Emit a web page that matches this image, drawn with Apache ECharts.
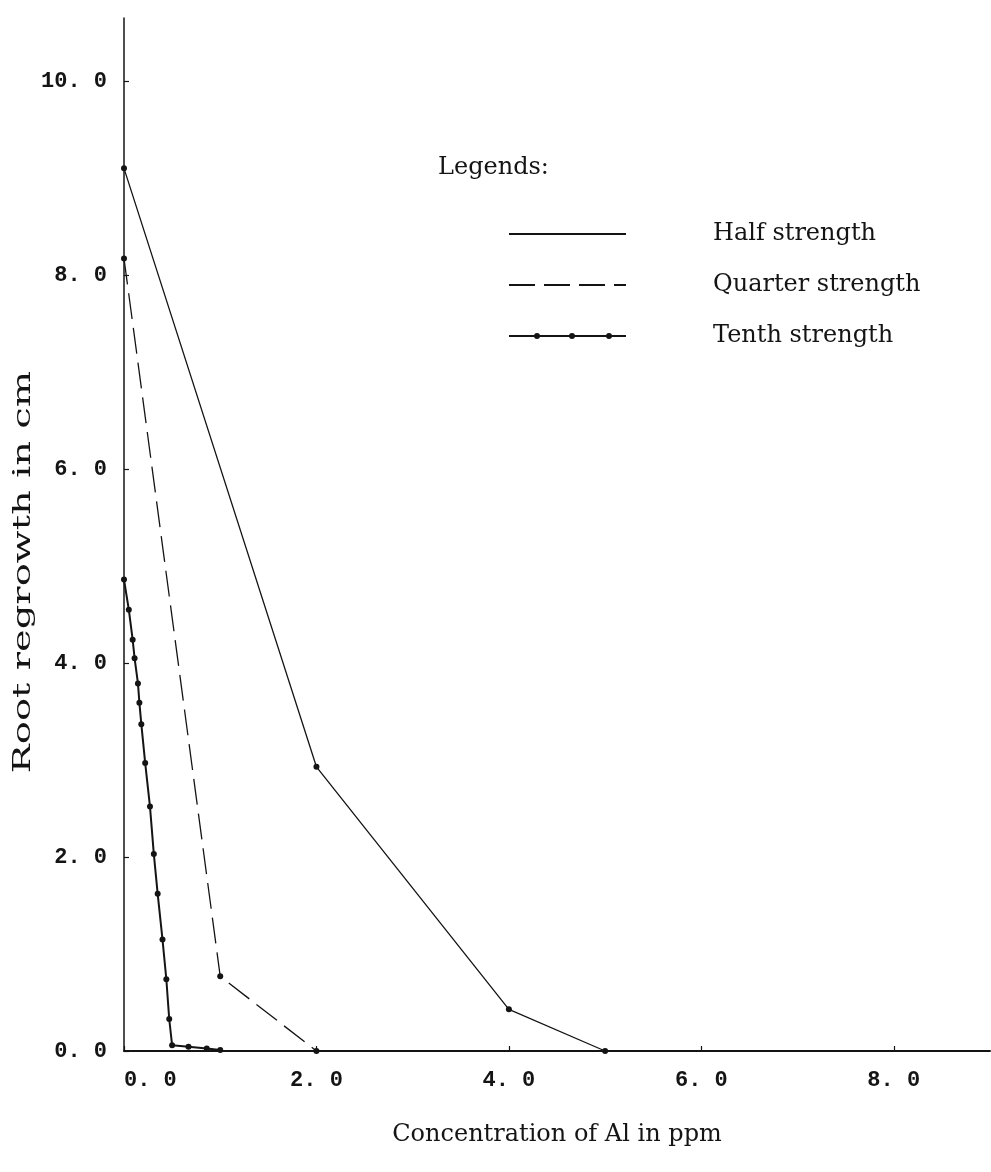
<!DOCTYPE html>
<html>
<head>
<meta charset="utf-8">
<script src="https://cdn.jsdelivr.net/npm/echarts@6/dist/echarts.min.js"></script>
<style>
  html, body { margin: 0; padding: 0; background: #fff; }
  #chart { width: 991px; height: 1172px; }
</style>
</head>
<body>
<div id="chart"></div>
<script>
// Tick positions for both axes
const xTicks = [0, 2, 4, 6, 8];
const yTicks = [0, 2, 4, 6, 8, 10];

// Root regrowth (cm) against Al concentration (ppm) for three nutrient strengths
const halfX = [0, 2.0, 4.0, 5.0];
const halfY = [9.10, 2.93, 0.43, 0];

const quarterX = [0, 1.0, 2.0];
const quarterY = [8.17, 0.77, 0];

const tenthX = [0, 0.05, 0.09, 0.11, 0.145, 0.16, 0.18, 0.22, 0.27, 0.31, 0.35, 0.40, 0.44, 0.47, 0.50, 0.67, 0.86, 1.0];
const tenthY = [4.86, 4.55, 4.24, 4.05, 3.79, 3.59, 3.37, 2.97, 2.52, 2.03, 1.62, 1.15, 0.74, 0.33, 0.06, 0.045, 0.025, 0.01];

const seriesNames = ['Half strength', 'Quarter strength', 'Tenth strength'];
const xTitle = 'Concentration of Al in ppm';
const yTitle = 'Root regrowth in cm';

const zip = (xs, ys) => xs.map((x, i) => [x, ys[i]]);
const ink = '#141414';
const tickFmt = v => v.toFixed(1).replace('.', '. ');

// Legend sample for the dotted series: a bar with three dots
const dottedIcon = 'path://M0,3L117,3L117,5L0,5Z' +
  'M25,4A3,3 0 1 1 31,4A3,3 0 1 1 25,4Z' +
  'M60,4A3,3 0 1 1 66,4A3,3 0 1 1 60,4Z' +
  'M97,4A3,3 0 1 1 103,4A3,3 0 1 1 97,4Z';

const chart = echarts.init(document.getElementById('chart'), null, { renderer: 'canvas' });

chart.setOption({
  backgroundColor: '#fff',
  animation: false,
  title: {
    text: 'Legends:',
    left: 438,
    top: 156,
    padding: 0,
    textStyle: { fontFamily: 'DejaVu Serif', fontWeight: 'normal', fontSize: 24, color: ink }
  },
  // Wide-set vertical axis title
  graphic: [{
    type: 'text',
    x: 24,
    y: 572,
    rotation: Math.PI / 2,
    scaleX: 1.6,
    style: {
      text: yTitle,
      font: '24px "DejaVu Serif"',
      fill: ink,
      align: 'center',
      verticalAlign: 'middle'
    }
  }],
  legend: {
    orient: 'vertical',
    left: 508,
    top: 221,
    padding: 0,
    itemWidth: 117,
    itemHeight: 14,
    itemGap: 25,
    selectedMode: false,
    data: [
      { name: seriesNames[0], itemStyle: { opacity: 0 } },
      { name: seriesNames[1], itemStyle: { opacity: 0 } },
      { name: seriesNames[2], icon: dottedIcon }
    ],
    formatter: n => '{s|}' + n,
    textStyle: {
      fontFamily: 'DejaVu Serif', fontSize: 24, color: ink, lineHeight: 26,
      rich: { s: { width: 82 } }
    }
  },
  grid: { left: 124, right: 1, top: 18, bottom: 121 },
  xAxis: {
    type: 'value',
    min: 0,
    max: 9,
    splitLine: { show: false },
    axisLine: { lineStyle: { color: ink, width: 2 } },
    axisTick: { inside: true, length: 5, customValues: xTicks, lineStyle: { color: ink, width: 1.2 } },
    axisLabel: {
      customValues: xTicks,
      formatter: tickFmt,
      fontFamily: 'Liberation Mono', fontWeight: 'bold', fontSize: 22, color: ink,
      margin: 18,
      alignMinLabel: 'left'
    },
    name: xTitle,
    nameLocation: 'middle',
    nameGap: 72,
    nameTextStyle: { fontFamily: 'DejaVu Serif', fontSize: 24, color: ink }
  },
  yAxis: {
    type: 'value',
    min: 0,
    max: 10.65,
    splitLine: { show: false },
    axisLine: { lineStyle: { color: ink, width: 1.5 } },
    axisTick: { inside: true, length: 5, customValues: yTicks, lineStyle: { color: ink, width: 1.2 } },
    axisLabel: {
      customValues: yTicks,
      formatter: tickFmt,
      fontFamily: 'Liberation Mono', fontWeight: 'bold', fontSize: 22, color: ink,
      margin: 17
    }
  },
  series: [
    {
      name: seriesNames[0], type: 'line', data: zip(halfX, halfY),
      symbol: 'circle', symbolSize: 6,
      lineStyle: { color: ink, width: 1.3 },
      itemStyle: { color: ink }
    },
    {
      name: seriesNames[1], type: 'line', data: zip(quarterX, quarterY),
      symbol: 'circle', symbolSize: 6,
      lineStyle: { color: ink, width: 1.3, type: [26, 9] },
      itemStyle: { color: ink }
    },
    {
      name: seriesNames[2], type: 'line', data: zip(tenthX, tenthY),
      symbol: 'circle', symbolSize: 6,
      lineStyle: { color: ink, width: 2 },
      itemStyle: { color: ink }
    }
  ]
});
</script>
</body>
</html>
